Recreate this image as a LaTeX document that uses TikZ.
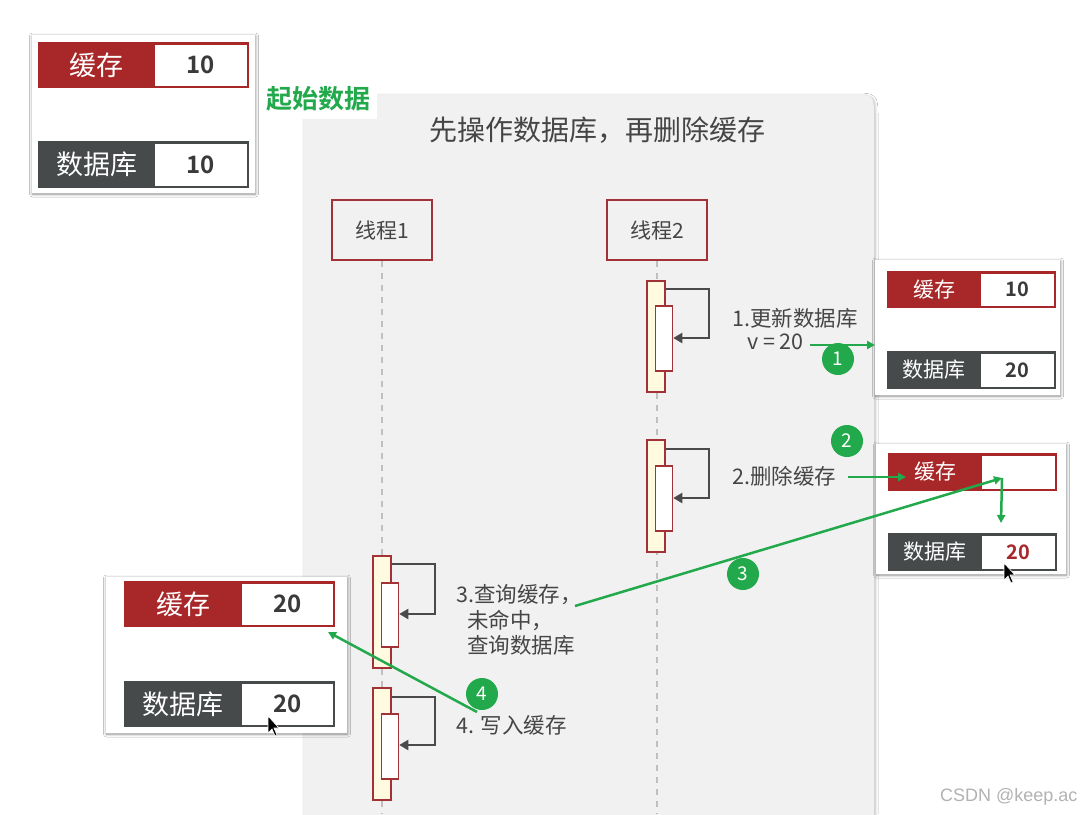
\documentclass[tikz,border=0pt]{standalone}
\usepackage{fontspec}
\setmainfont{Noto Sans CJK SC}[BoldFont={Noto Sans CJK SC Bold}]
\newfontfamily\wmfont{Liberation Sans}
\usetikzlibrary{arrows.meta,shadows,shadows.blur,calc}
\definecolor{cred}{HTML}{A8282A}
\definecolor{cgray}{HTML}{464A4B}
\definecolor{cgreen}{HTML}{22A94B}
\definecolor{panelbg}{HTML}{F1F1F1}
\definecolor{lred}{HTML}{A33236}
\definecolor{ayellow}{HTML}{FFFAE0}
\definecolor{txt}{HTML}{454545}
\definecolor{arr}{HTML}{4A4A4A}
\definecolor{valtxt}{HTML}{3A3A3A}
\newcommand\dbbar[9]{%
  \node[barbg, fill=#7, minimum width=#4, minimum height=#5, anchor=north west] (#1) at (#2,#3) {};
  \node[barval, minimum width=#4-#6-2.5, minimum height=#5-5, anchor=north east] (#1v) at ($(#1.north east)+(-2.5,2.5)$) {#9};
  \node[barlab] (#1l) at ($(#1.west)+(#6/2,0)$) {#8};
}
\begin{document}
\begin{tikzpicture}[x=1pt,y=-1pt,
  fs/.style={font=\fontsize{#1}{#1}\selectfont},
  card/.style={fill=white, draw=none, inner sep=0, outer sep=0, anchor=north west,
    blur shadow={shadow xshift=0.5pt, shadow yshift=-1pt, shadow blur radius=3pt, shadow opacity=45, shadow blur steps=6}},
  barbg/.style={draw=none, inner sep=0, outer sep=0},
  barval/.style={fill=white, draw=none, inner sep=0, outer sep=0, text=valtxt},
  barlab/.style={text=white, inner sep=0},
  bigbar/.style={barlab/.append style={fs=27}, barval/.append style={font=\fontsize{24}{24}\selectfont\bfseries}},
  smallbar/.style={barlab/.append style={fs=21}, barval/.append style={font=\fontsize{20}{20}\selectfont\bfseries}},
  thread/.style={draw=lred, line width=1.5pt, fill=panelbg, minimum width=100, minimum height=60, text=txt, fs=21},
  life/.style={draw=black!25, line width=1.5pt, dash pattern=on 6pt off 6pt},
  act/.style={draw=lred, line width=1.5pt, fill=ayellow, minimum width=18, anchor=north, inner sep=0},
  actin/.style={draw=lred, line width=1.5pt, fill=white, minimum width=17, anchor=north, inner sep=0},
  selfarr/.style={draw=arr, line width=2pt, -{Triangle[length=9pt,width=10pt]}},
  lbl/.style={text=txt, fs=21.5, anchor=west, inner sep=0},
  garrow/.style={draw=cgreen, line width=2.5pt, -{Triangle[length=8pt,width=8pt]}},
  num/.style={circle, fill=cgreen, text=white, minimum size=32, inner sep=0, fs=19},
]
\useasboundingbox (0,0) rectangle (1092,814);
\fill[white] (0,0) rectangle (1092,814);

% main panel
\path[fill=panelbg, blur shadow={shadow xshift=1pt, shadow yshift=-1pt, shadow blur radius=3pt, shadow opacity=30}]
  (304,830) -- (304,95) -- (852,95) .. controls (874,95) .. (874,117) -- (874,830) -- cycle;

\node[text=txt, fs=28] (title) at (597,130) {先操作数据库，再删除缓存};

% start data label
\node[fill=white, minimum width=118, minimum height=40, inner sep=0, text=cgreen, font=\fontsize{26}{26}\selectfont\bfseries] (start) at (318,99) {起始数据};

% threads
\node[thread] (t1) at (382,230) {线程1};
\node[thread] (t2) at (657,230) {线程2};
\coordinate (t1end) at (382,814);
\coordinate (t2end) at (657,814);
\draw[life] (t1.south) -- (t1end);
\draw[life] (t2.south) -- (t2end);

% thread2 activations
\node[act, minimum height=111] (a1) at (656,280) {};
\node[actin, minimum height=65] (a1i) at (664,305) {};
\draw[selfarr] (a1.east |- 0,289) -- (709,289) -- (709,338) -- (a1i.east |- 0,338);
\node[act, minimum height=112] (a2) at (656,439) {};
\node[actin, minimum height=65] (a2i) at (664,465) {};
\draw[selfarr] (a2.east |- 0,449) -- (709,449) -- (709,498) -- (a2i.east |- 0,498);

% thread1 activations
\node[act, minimum height=112] (a3) at (382,555) {};
\node[actin, minimum height=64] (a3i) at (390,582) {};
\draw[selfarr] (a3.east |- 0,564) -- (435,564) -- (435,614) -- (a3i.east |- 0,614);
\node[act, minimum height=112] (a4) at (382,687) {};
\node[actin, minimum height=65] (a4i) at (390,713) {};
\draw[selfarr] (a4.east |- 0,697) -- (435,697) -- (435,745) -- (a4i.east |- 0,745);

% labels
\node[lbl] (l1) at (732,318) {1.更新数据库};
\node[lbl] (l1b) at (747,342) {v = 20};
\node[lbl] (l2) at (732,476) {2.删除缓存};
\node[lbl] (l3a) at (456,595) {3.查询缓存，};
\node[lbl] (l3b) at (467,620) {未命中，};
\node[lbl] (l3c) at (467,645) {查询数据库};
\node[lbl] (l4) at (456,725) {4. 写入缓存};

% data cards
\node[card, minimum width=223, minimum height=158] (p0) at (32,35) {};
\node[card, minimum width=185, minimum height=135] (p1) at (875,260) {};
\node[card, minimum width=190, minimum height=130] (p2) at (876,444) {};
\node[card, minimum width=241, minimum height=156] (p4) at (106,577) {};

\begin{scope}[bigbar]
\dbbar{c0}{38}{42}{211}{46}{117}{cred}{缓存}{10}
\dbbar{d0}{38}{141}{211}{47}{117}{cgray}{数据库}{10}
\dbbar{c4}{124}{581}{211}{46}{118}{cred}{缓存}{20}
\dbbar{d4}{124}{681}{211}{46}{118}{cgray}{数据库}{20}
\end{scope}
\begin{scope}[smallbar]
\dbbar{c1}{887}{271}{169}{37}{94}{cred}{缓存}{10}
\dbbar{d1}{887}{351}{169}{38}{94}{cgray}{数据库}{20}
\dbbar{c2}{888}{453}{169}{38}{94}{cred}{缓存}{}
\dbbar{d2}{888}{533}{169}{38}{94}{cgray}{数据库}{\color{cred}20}
\end{scope}

% green arrows
\coordinate (g1s) at (810,345);
\draw[garrow] (g1s) -- (p1.west |- g1s);
\node[num] (n1) at (838,359) {1};

\coordinate (g2s) at (848,477);
\coordinate (g2e) at (906,477);
\draw[garrow] (g2s) -- (g2e);
\node[num] (n2) at (847,441) {2};

\coordinate (g3s) at (575,606);
\coordinate (g3e) at (1002,478);
\coordinate (g3d) at (1001,523);
\draw[garrow] (g3s) -- (g3e);
\draw[garrow] (g3e) -- (g3d);
\node[num] (n3) at (743,574) {3};

\coordinate (g4s) at (477,712);
\coordinate (g4e) at (328,632);
\draw[garrow] (g4s) -- (g4e);
\node[num] (n4) at (482,694) {4};

% mouse cursors
\foreach \cx/\cy in {1004/563, 268/716}{
  \filldraw[fill=black, draw=white, line width=0.6pt, shift={(\cx,\cy)}]
    (0,0) -- (0,17) -- (4,13) -- (7,20) -- (9,19) -- (6,12) -- (11,12) -- cycle;
}

% watermark
\node[anchor=west, text=black!30, font=\wmfont\fontsize{18}{18}\selectfont, inner sep=0] (wm) at (940,797) {CSDN @keep.ac};
\end{tikzpicture}
\end{document}
